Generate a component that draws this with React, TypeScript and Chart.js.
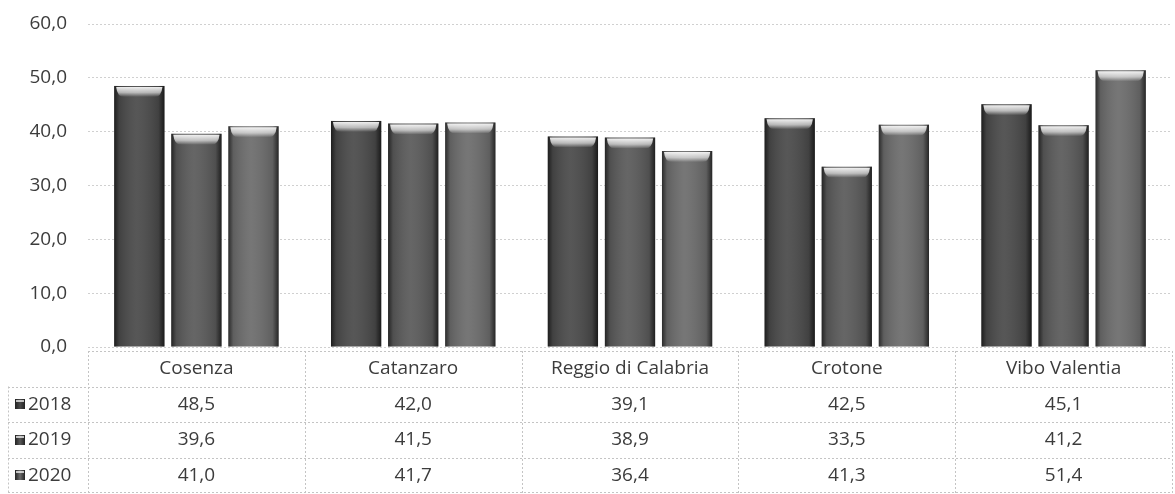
import React, { useEffect, useRef } from 'react';
import { Chart, registerables } from 'chart.js';

Chart.register(...registerables);

const categories = ['Cosenza', 'Catanzaro', 'Reggio di Calabria', 'Crotone', 'Vibo Valentia'];
const years = ['2018', '2019', '2020'];
const values2018 = [48.5, 42.0, 39.1, 42.5, 45.1];
const values2019 = [39.6, 41.5, 38.9, 33.5, 41.2];
const values2020 = [41.0, 41.7, 36.4, 41.3, 51.4];
const yMin = 0;
const yMax = 60;
const yStep = 10;

const seriesValues = [values2018, values2019, values2020];
const barColors = ['#4a4a4a', '#5a5a5a', '#6c6c6c'];
const FONT = '"Open Sans", "DejaVu Sans", sans-serif';
const TEXT = '#3c3c3c';

const fmt = (v: number) => v.toFixed(1).replace('.', ',');

const barShade = {
  id: 'barShade',
  afterDatasetsDraw(chart: any) {
    const ctx = chart.ctx;
    chart.data.datasets.forEach((_ds: any, di: number) => {
      const meta = chart.getDatasetMeta(di);
      meta.data.forEach((el: any) => {
        const { x, y, base, width } = el.getProps(['x', 'y', 'base', 'width'], true);
        const l = x - width / 2;
        const r = x + width / 2;
        const h = base - y;
        ctx.save();
        const g = ctx.createLinearGradient(l, 0, r, 0);
        g.addColorStop(0, 'rgba(0,0,0,0.6)');
        g.addColorStop(0.1, 'rgba(0,0,0,0.12)');
        g.addColorStop(0.45, 'rgba(255,255,255,0.07)');
        g.addColorStop(0.88, 'rgba(0,0,0,0.12)');
        g.addColorStop(1, 'rgba(0,0,0,0.65)');
        ctx.fillStyle = g;
        ctx.fillRect(l, y, width, h);
        const bh = 11;
        const tg = ctx.createLinearGradient(0, y, 0, y + bh);
        tg.addColorStop(0, 'rgba(255,255,255,0.97)');
        tg.addColorStop(0.6, 'rgba(255,255,255,0.6)');
        tg.addColorStop(1, 'rgba(255,255,255,0)');
        ctx.beginPath();
        ctx.moveTo(l + 2, y + 1);
        ctx.lineTo(r - 2, y + 1);
        ctx.quadraticCurveTo(r - 3, y + bh, r - 10, y + bh);
        ctx.lineTo(l + 10, y + bh);
        ctx.quadraticCurveTo(l + 3, y + bh, l + 2, y + 1);
        ctx.closePath();
        ctx.fillStyle = tg;
        ctx.fill();
        ctx.restore();
      });
    });
  },
};

const dataTable = {
  id: 'dataTable',
  afterDraw(chart: any) {
    const { ctx, chartArea } = chart;
    const left = chartArea.left;
    const right = chartArea.right;
    const legendLeft = 8;
    const n = categories.length;
    const colW = (right - left) / n;
    const top = chartArea.bottom + 4;
    const rowH = 35.5;
    const bottom = top + rowH * 4;
    ctx.save();
    ctx.strokeStyle = '#c4c4c4';
    ctx.lineWidth = 1;
    ctx.setLineDash([2, 2]);
    const hline = (x1: number, x2: number, yy: number) => {
      const py = Math.round(yy) + 0.5;
      ctx.beginPath();
      ctx.moveTo(x1, py);
      ctx.lineTo(x2, py);
      ctx.stroke();
    };
    const vline = (xx: number, y1: number, y2: number) => {
      const px = Math.round(xx) + 0.5;
      ctx.beginPath();
      ctx.moveTo(px, y1);
      ctx.lineTo(px, y2);
      ctx.stroke();
    };
    hline(left, right, top);
    for (let r = 1; r <= 3; r++) hline(legendLeft, right, top + r * rowH);
    hline(legendLeft, right, bottom - 1);
    for (let i = 0; i <= n; i++) vline(left + i * colW, top, bottom);
    vline(legendLeft, top + rowH, bottom);
    ctx.setLineDash([]);

    ctx.fillStyle = TEXT;
    ctx.font = `19px ${FONT}`;
    ctx.textBaseline = 'middle';
    ctx.textAlign = 'center';
    categories.forEach((c, i) => {
      const cx = left + (i + 0.5) * colW;
      ctx.fillText(c, cx, top + rowH / 2);
      seriesValues.forEach((vals, s) => {
        ctx.fillText(fmt(vals[i]), cx, top + rowH * (s + 1.5));
      });
    });
    ctx.textAlign = 'left';
    years.forEach((yr, s) => {
      const cy = top + rowH * (s + 1.5);
      const sq = 10;
      const sx = 15;
      const sy = Math.round(cy - sq / 2);
      const g = ctx.createLinearGradient(sx, 0, sx + sq, 0);
      g.addColorStop(0, '#222');
      g.addColorStop(0.5, barColors[s]);
      g.addColorStop(1, '#222');
      ctx.fillStyle = g;
      ctx.fillRect(sx, sy, sq, sq);
      ctx.fillStyle = 'rgba(255,255,255,0.7)';
      ctx.fillRect(sx + 1, sy + 1, sq - 2, 2);
      ctx.fillStyle = TEXT;
      ctx.fillText(yr, 28, cy);
    });
    ctx.restore();
  },
};

export default function App() {
  const canvasRef = useRef<HTMLCanvasElement | null>(null);

  useEffect(() => {
    if (!canvasRef.current) return;
    const chart = new Chart(canvasRef.current, {
      type: 'bar',
      data: {
        labels: categories,
        datasets: years.map((yr, s) => ({
          label: yr,
          data: seriesValues[s],
          backgroundColor: barColors[s],
          borderWidth: 0,
          categoryPercentage: 0.79,
          barPercentage: 0.88,
        })),
      },
      options: {
        animation: false,
        responsive: true,
        maintainAspectRatio: false,
        layout: { padding: { top: 24, right: 3, bottom: 147, left: 0 } },
        plugins: {
          legend: { display: false },
          tooltip: { enabled: false },
        },
        scales: {
          x: { display: false },
          y: {
            min: yMin,
            max: yMax,
            ticks: {
              stepSize: yStep,
              padding: 0,
              color: TEXT,
              font: { family: FONT, size: 19 },
              callback: (v: any) => fmt(Number(v)),
            },
            grid: { color: '#d0d0d0', drawTicks: true, tickLength: 21, tickColor: 'rgba(0,0,0,0)' },
            border: { display: false, dash: [2, 2] },
            afterFit: (scale: any) => {
              scale.width = 88;
            },
          },
        },
      },
      plugins: [barShade, dataTable],
    });
    return () => chart.destroy();
  }, []);

  return (
    <div style={{ position: 'absolute', left: 0, top: 0, width: 1175, height: 494, background: '#fff' }}>
      <canvas ref={canvasRef} />
    </div>
  );
}
